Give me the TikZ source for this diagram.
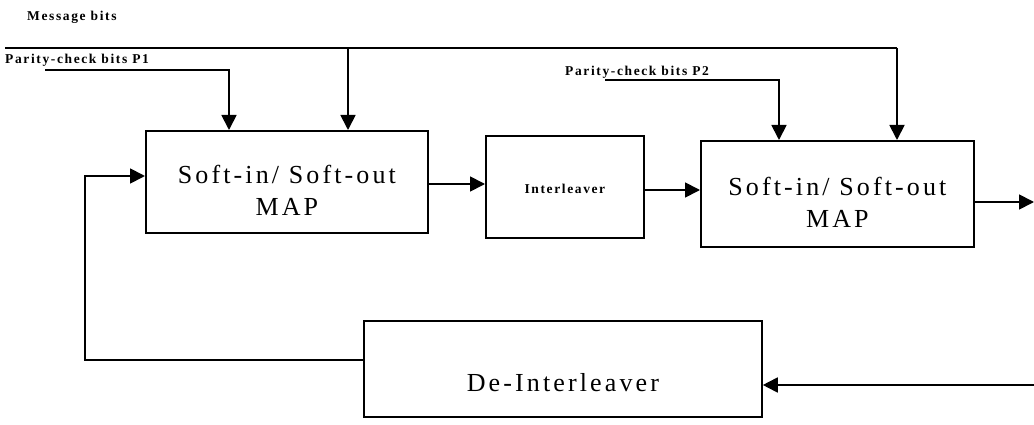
\documentclass[tikz,border=0pt]{standalone}
\usepackage{fontspec}
\setmainfont{Liberation Serif}
\newfontfamily\boxfont[LetterSpace=12]{Liberation Serif}
\newfontfamily\lblfont[LetterSpace=12]{Liberation Serif}
\usetikzlibrary{arrows.meta}
\begin{document}
\begin{tikzpicture}[x=1pt,y=-1pt,
  blk/.style={draw,line width=1.8pt,inner sep=0pt,anchor=north west},
  wire/.style={line width=1.8pt},
  arr/.style={wire,-{Triangle[length=15pt,width=15pt]}},
  lbl/.style={font=\lblfont\fontsize{13.5}{15}\selectfont\bfseries,anchor=west,inner sep=0pt},
  big/.style={font=\boxfont\fontsize{26}{32}\selectfont,align=center}]
\useasboundingbox (0,0) rectangle (1034,425);
% blocks
\node[blk,minimum width=282pt,minimum height=102pt] (sisoA) at (145,130) {};
\node[big] at ([yshift=-8pt]sisoA.center) {Soft-in/ Soft-out\\MAP};
\node[blk,minimum width=158pt,minimum height=102pt] (intl) at (485,135) {};
\node[lbl,anchor=center] at ([yshift=-2pt]intl.center) {Interleaver};
\node[blk,minimum width=273pt,minimum height=106pt] (sisoB) at (700,140) {};
\node[big] at ([yshift=-8pt]sisoB.center) {Soft-in/ Soft-out\\MAP};
\node[blk,minimum width=398pt,minimum height=96pt] (deint) at (363,320) {};
\node[big] at ([yshift=-14pt]deint.center) {De-Interleaver};
% labels
\node[lbl] (msg) at (27,17) {Message bits};
\node[lbl] (p1) at (5,60) {Parity-check bits P1};
\node[lbl] (p2) at (565,72) {Parity-check bits P2};
% coordinates
\coordinate (mstart) at (5,48);
\coordinate (mA) at (348,48);
\coordinate (mB) at (897,48);
\coordinate (p1s) at (45,70);
\coordinate (p1c) at (229,70);
\coordinate (p2s) at (605,80);
\coordinate (p2c) at (779,80);
\coordinate (outE) at (1034,202);
\coordinate (inE) at (1034,385);
\coordinate (fbL) at (85,360);
\coordinate (fbT) at (85,176);
% connectors
\draw[wire] (mstart) -- (mB);
\draw[arr] (mA) -- (mA |- sisoA.north);
\draw[arr] (mB) -- (mB |- sisoB.north);
\draw[arr] (p1s) -- (p1c) -- (p1c |- sisoA.north);
\draw[arr] (p2s) -- (p2c) -- (p2c |- sisoB.north);
\draw[arr] (sisoA.east |- 0,184) -- (intl.west |- 0,184);
\draw[arr] (intl.east |- 0,190) -- (sisoB.west |- 0,190);
\draw[arr] (sisoB.east |- outE) -- (outE);
\draw[arr] (inE) -- (deint.east |- inE);
\draw[arr] (deint.west |- fbL) -- (fbL) -- (fbT) -- (sisoA.west |- fbT);
\end{tikzpicture}
\end{document}
